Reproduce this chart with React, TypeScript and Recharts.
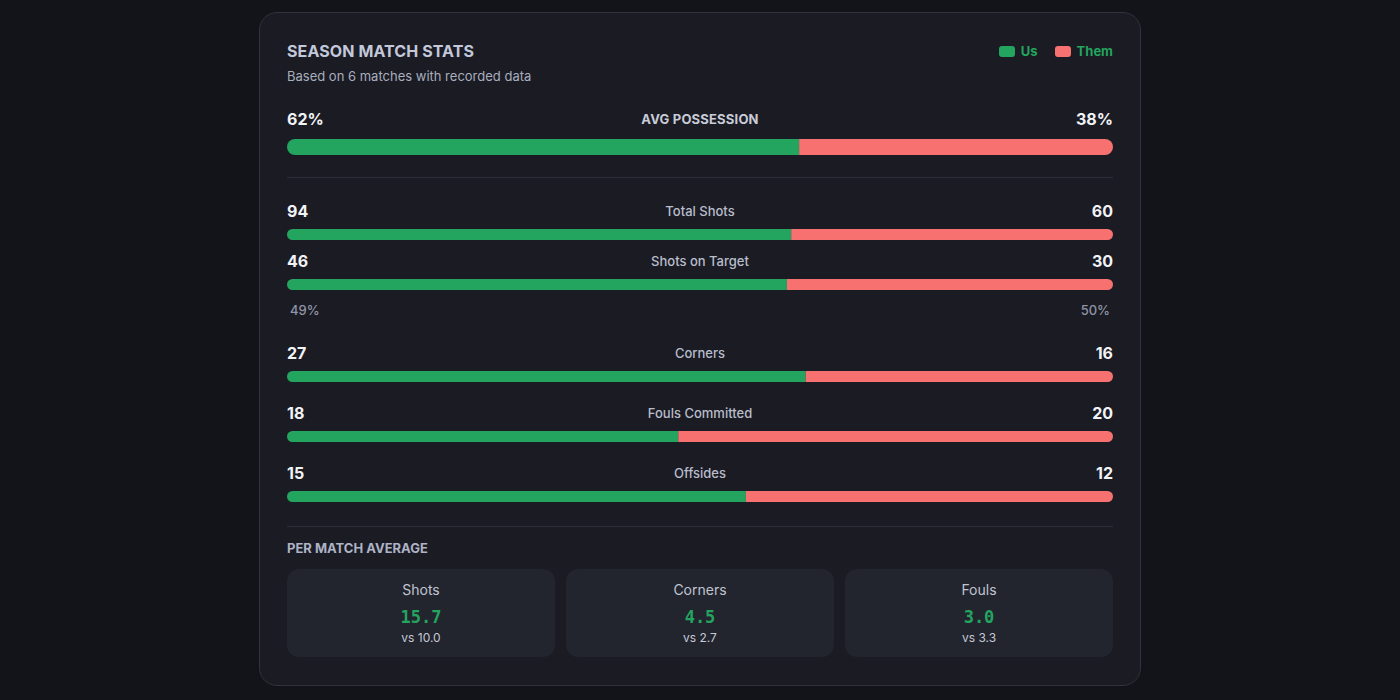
import { BarChart, Bar, XAxis, YAxis } from 'recharts';

const GREEN = '#23a45f';
const RED = '#f87171';

// possession
const possessionUs = 62;
const possessionThem = 38;

// season totals
const statLabels = ['Total Shots', 'Shots on Target', 'Corners', 'Fouls Committed', 'Offsides'];
const usTotals = [94, 46, 27, 18, 15];
const themTotals = [60, 30, 16, 20, 12];

// shots on target conversion
const conversionUs = '49%';
const conversionThem = '50%';

// per match averages
const avgLabels = ['Shots', 'Corners', 'Fouls'];
const avgUs = ['15.7', '4.5', '3.0'];
const avgThem = ['10.0', '2.7', '3.3'];

const CONTENT_W = 826;

function SplitBar({ us, them, height }: { us: number; them: number; height: number }) {
  const r = height / 2;
  return (
    <BarChart width={CONTENT_W} height={height} data={[{ name: 'row', us, them }]} layout="vertical"
      stackOffset="expand" margin={{ top: 0, right: 0, bottom: 0, left: 0 }} barCategoryGap={0}>
      <XAxis type="number" domain={[0, 1]} hide />
      <YAxis type="category" dataKey="name" hide />
      <Bar dataKey="us" stackId="a" fill={GREEN} radius={[r, 0, 0, r]} isAnimationActive={false} />
      <Bar dataKey="them" stackId="a" fill={RED} radius={[0, r, r, 0]} isAnimationActive={false} />
    </BarChart>
  );
}

function ValueRow({ left, right, label, bold }: { left: string | number; right: string | number; label: string; bold?: boolean }) {
  return (
    <div style={{ display: 'flex', justifyContent: 'space-between', alignItems: 'center', height: 20 }}>
      <span style={{ fontSize: 16, fontWeight: 700, color: '#f2f3f7', width: 80 }}>{left}</span>
      <span style={{
        fontSize: 13, fontWeight: bold ? 700 : 500, color: bold ? '#c9ccd8' : '#b9bdcb',
        letterSpacing: bold ? 0.2 : 0,
      }}>{label}</span>
      <span style={{ fontSize: 16, fontWeight: 700, color: '#f2f3f7', width: 80, textAlign: 'right' }}>{right}</span>
    </div>
  );
}

// space above each totals row (shots on target sits tight under total shots)
const rowGaps = [0, 11, 25, 21, 21];

export default function App() {
  return (
    <div style={{ width: 1400, height: 700, background: '#131419', position: 'relative', fontFamily: 'Inter, sans-serif' }}>
      <style>{'body{margin:0}'}</style>
      <div style={{
        position: 'absolute', left: 259, top: 12, width: 882, height: 674, boxSizing: 'border-box',
        background: '#1a1b23', border: '1px solid #30323d', borderRadius: 18, padding: '28px 27px 0 27px',
      }}>
        {/* header */}
        <div style={{ display: 'flex', justifyContent: 'space-between', alignItems: 'center', height: 20 }}>
          <span style={{ fontSize: 16, fontWeight: 700, color: '#c3c8da', letterSpacing: 0.1 }}>SEASON MATCH STATS</span>
          <div style={{ display: 'flex', alignItems: 'center', fontSize: 13, fontWeight: 700, color: GREEN }}>
            <span style={{ width: 16, height: 11, borderRadius: 3, background: GREEN, marginRight: 6 }} />
            <span>Us</span>
            <span style={{ width: 16, height: 11, borderRadius: 3, background: RED, marginLeft: 17, marginRight: 6 }} />
            <span>Them</span>
          </div>
        </div>
        <div style={{ marginTop: 6, fontSize: 13, lineHeight: '18px', color: '#a9aebe' }}>
          Based on 6 matches with recorded data
        </div>

        {/* possession */}
        <div style={{ marginTop: 24 }}>
          <ValueRow left={`${possessionUs}%`} right={`${possessionThem}%`} label="AVG POSSESSION" bold />
          <div style={{ marginTop: 10, height: 16 }}>
            <SplitBar us={possessionUs} them={possessionThem} height={16} />
          </div>
        </div>

        <div style={{ marginTop: 22, height: 1, background: '#2c2e39' }} />

        {/* totals */}
        <div style={{ marginTop: 23 }}>
          {statLabels.map((label, i) => (
            <div key={label} style={{ marginTop: rowGaps[i] }}>
              <ValueRow left={usTotals[i]} right={themTotals[i]} label={label} />
              <div style={{ marginTop: 8, height: 11 }}>
                <SplitBar us={usTotals[i]} them={themTotals[i]} height={11} />
              </div>
              {label === 'Shots on Target' && (
                <div style={{
                  display: 'flex', justifyContent: 'space-between', marginTop: 12, padding: '0 3px',
                  fontSize: 13, lineHeight: '16px', color: '#8f94a5', fontWeight: 500,
                }}>
                  <span>{conversionUs}</span>
                  <span>{conversionThem}</span>
                </div>
              )}
            </div>
          ))}
        </div>

        <div style={{ marginTop: 24, height: 1, background: '#2c2e39' }} />

        {/* per match */}
        <div style={{ marginTop: 12, fontSize: 13, lineHeight: '18px', fontWeight: 700, color: '#aeb3c6' }}>
          PER MATCH AVERAGE
        </div>
        <div style={{ marginTop: 12, display: 'flex', gap: 11 }}>
          {avgLabels.map((label, i) => (
            <div key={label} style={{
              width: 268, height: 88, boxSizing: 'border-box', background: '#22242e', borderRadius: 12,
              paddingTop: 12, textAlign: 'center',
            }}>
              <div style={{ fontSize: 14, lineHeight: '18px', color: '#c0c4d1' }}>{label}</div>
              <div style={{
                marginTop: 7, fontSize: 17, lineHeight: '22px', fontWeight: 700, color: GREEN,
                fontFamily: '"DejaVu Sans Mono", monospace',
              }}>{avgUs[i]}</div>
              <div style={{ marginTop: 2, fontSize: 12, lineHeight: '16px', color: '#c6c9d3' }}>vs {avgThem[i]}</div>
            </div>
          ))}
        </div>
      </div>
    </div>
  );
}
